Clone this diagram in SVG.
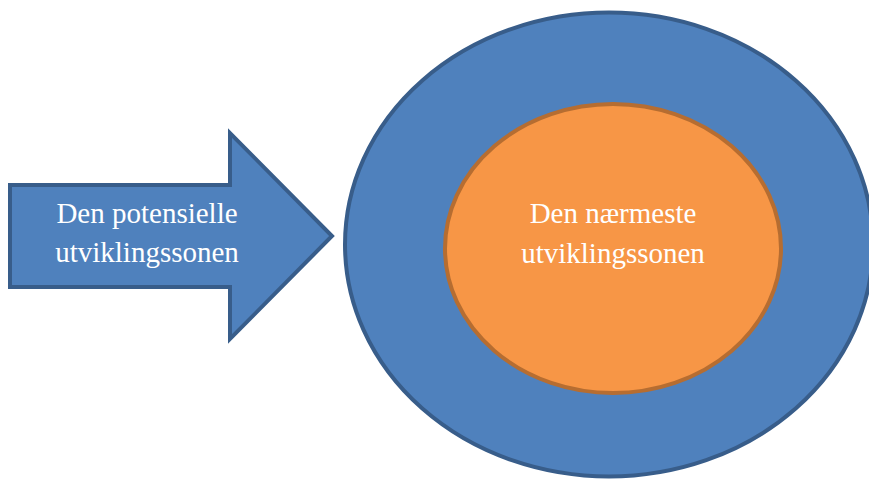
<svg xmlns="http://www.w3.org/2000/svg" width="869" height="482" viewBox="0 0 869 482">
<style>
.lbl{font-family:"Liberation Serif","Times New Roman",serif;font-size:29px;fill:#ffffff;text-anchor:middle}
.blue{fill:#4f81bd;stroke:#385d8a;stroke-width:4}
.orange{fill:#f79646;stroke:#b66d31;stroke-width:4}
</style>
<rect width="869" height="482" fill="#ffffff"/>
<g id="outer">
<ellipse class="blue" cx="609" cy="244.5" rx="264" ry="232"/>
</g>
<g id="inner">
<ellipse class="orange" cx="613" cy="248.5" rx="168" ry="144.5"/>
<text class="lbl" x="613" y="223">Den nærmeste</text>
<text class="lbl" x="613" y="263">utviklingssonen</text>
</g>
<g id="arrow">
<polygon class="blue" points="10,185 230,185 230,133 332,236 230,339 230,287 10,287"/>
<text class="lbl" x="147" y="223">Den potensielle</text>
<text class="lbl" x="147" y="262">utviklingssonen</text>
</g>
<g id="connectors"/>
</svg>
